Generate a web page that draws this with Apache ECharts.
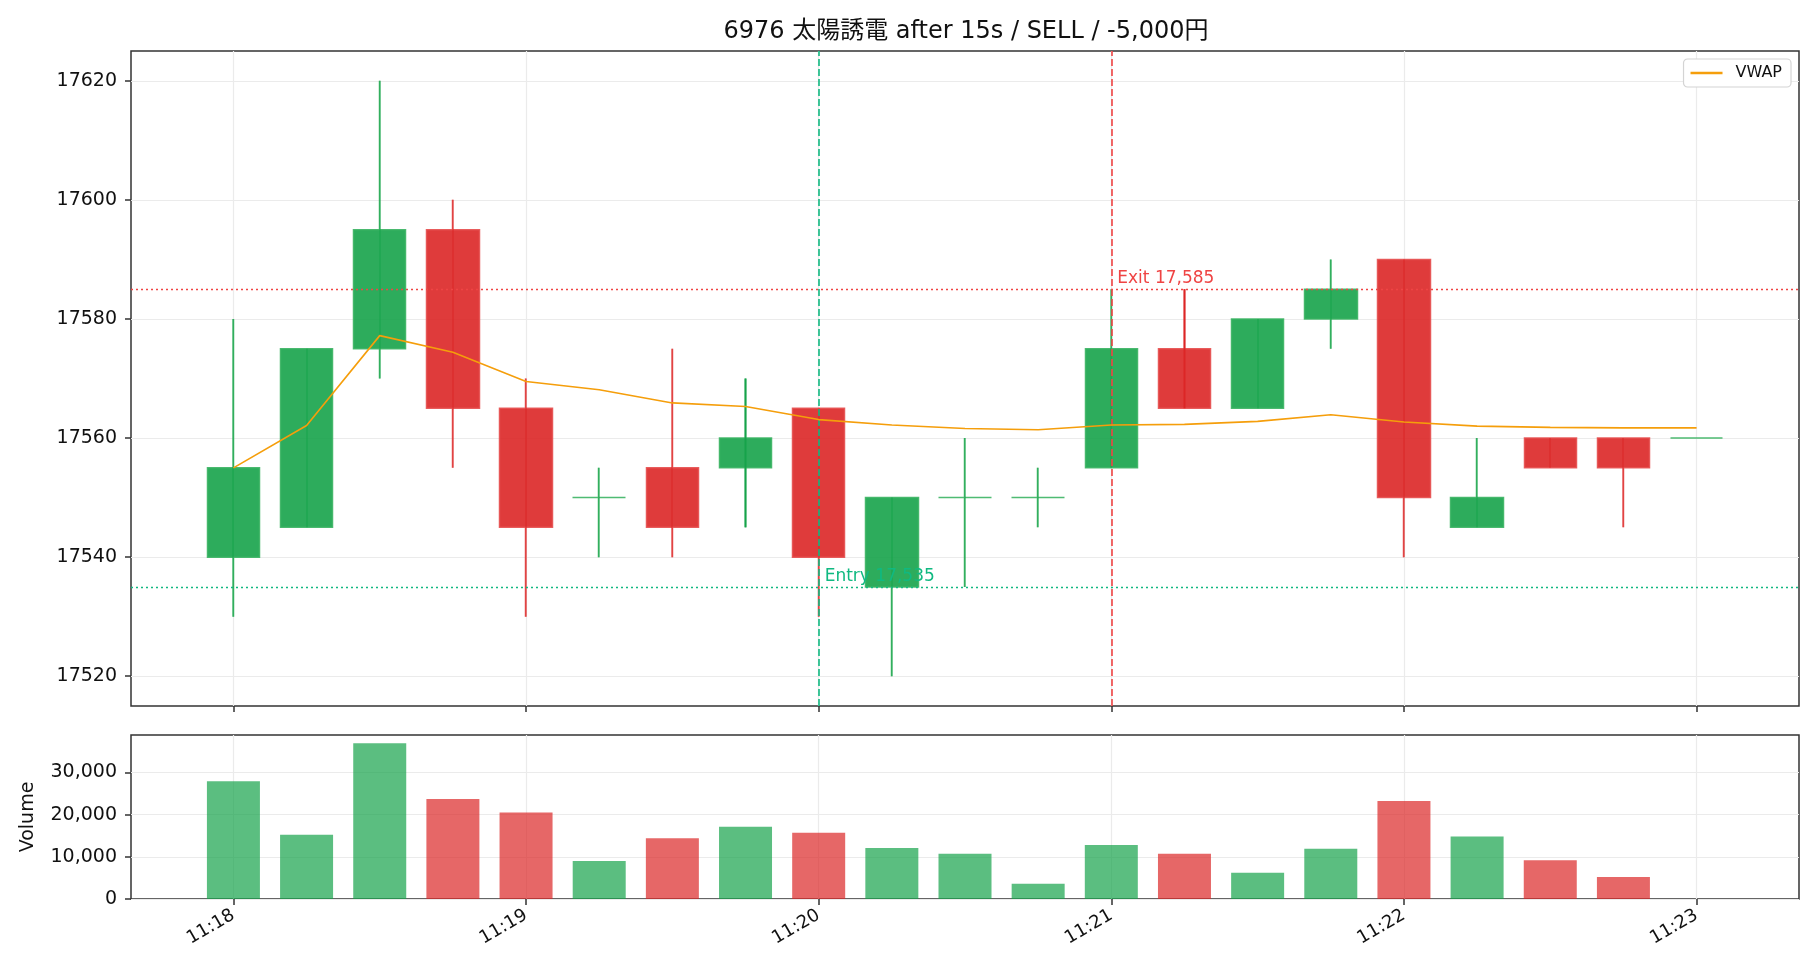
<!DOCTYPE html>
<html>
<head>
<meta charset="utf-8">
<title>6976 太陽誘電</title>
<script src="https://cdn.jsdelivr.net/npm/echarts@6/dist/echarts.min.js"></script>
<style>
html, body { margin: 0; padding: 0; background: #fff; }
#chart { width: 1820px; height: 980px; }
</style>
</head>
<body>
<div id="chart"></div>
<script>
// 15秒足 11:18:00 - 11:23:00 (index 0..20)
var candleIdx = [0, 1, 2, 3, 4, 5, 6, 7, 8, 9, 10, 11, 12, 13, 14, 15, 16, 17, 18, 19, 20];
var opens  = [17540, 17545, 17575, 17595, 17565, 17550, 17555, 17555, 17565, 17535, 17550, 17550, 17555, 17575, 17565, 17580, 17590, 17545, 17560, 17560, 17560];
var closes = [17555, 17575, 17595, 17565, 17545, 17550, 17545, 17560, 17540, 17550, 17550, 17550, 17575, 17565, 17580, 17585, 17550, 17550, 17555, 17555, 17560];
var lows   = [17530, 17545, 17570, 17555, 17530, 17540, 17540, 17545, 17530, 17520, 17535, 17545, 17555, 17565, 17565, 17575, 17540, 17545, 17555, 17545, 17560];
var highs  = [17580, 17575, 17620, 17600, 17570, 17555, 17575, 17570, 17565, 17550, 17560, 17555, 17585, 17585, 17580, 17590, 17590, 17560, 17560, 17560, 17560];
var vwap   = [17555.0, 17562.1, 17577.2, 17574.4, 17569.5, 17568.1, 17565.9, 17565.3, 17563.1, 17562.2, 17561.6, 17561.4, 17562.2, 17562.3, 17562.8, 17563.9, 17562.7, 17562.0, 17561.8, 17561.7, 17561.7];
var volumes = [27900, 15200, 36900, 23700, 20500, 9000, 14400, 17100, 15700, 12100, 10700, 3600, 12800, 10700, 6200, 11900, 23200, 14800, 9200, 5200, 0];

var timeTicks  = [0, 4, 8, 12, 16, 20];
var timeLabels = ['11:18', '11:19', '11:20', '11:21', '11:22', '11:23'];
var priceTicks = [17520, 17540, 17560, 17580, 17600, 17620];
var volTicks   = [0, 10000, 20000, 30000];

var entryIdx = 8, entryPrice = 17535;
var exitIdx = 12, exitPrice = 17585;

var UP = '#16a34a', DOWN = '#dc2626';
var ENTRY = '#10b981', EXIT = '#ef4444';
var FONT = '"DejaVu Sans", "Noto Sans CJK JP", sans-serif';

function isUp(i) {
  if (closes[i] !== opens[i]) return closes[i] > opens[i];
  return i === 0 || closes[i - 1] <= closes[i];
}

var candleData = candleIdx.map(function (x, i) {
  return [x, opens[i], closes[i], lows[i], highs[i]];
});
// 実体の上に重ねるヒゲ (low-high の細い線)
var wickData = candleIdx.map(function (x, i) {
  var c = isUp(i) ? UP : DOWN;
  return { value: [x, lows[i], highs[i], lows[i], highs[i]],
           itemStyle: { color: c, color0: c, borderColor: c, borderColor0: c, borderWidth: 0 } };
});
var volData = candleIdx.map(function (x, i) {
  return { value: [x, volumes[i]],
           itemStyle: { color: isUp(i) ? 'rgba(22,163,74,0.7)' : 'rgba(220,38,38,0.7)' } };
});
var vwapData = candleIdx.map(function (x, i) { return [x, vwap[i]]; });

var gridLine = { show: true, lineStyle: { color: '#ebebeb', width: 1.2 } };
var tickStyle = { show: true, length: 6, lineStyle: { color: '#333', width: 1.5 } };
var noLine = { show: false, onZero: false };
var labelStyle = { color: '#111', fontSize: 19, fontFamily: FONT };

var chart = echarts.init(document.getElementById('chart'));
chart.setOption({
  animation: false,
  backgroundColor: '#fff',
  graphic: [{
    type: 'text', x: 966, y: 32, z: 10,
    style: { text: '6976 太陽誘電 after 15s / SELL / -5,000円', fill: '#111',
             font: '24px ' + FONT, textAlign: 'center', textVerticalAlign: 'middle' }
  }],
  legend: {
    data: [{ name: 'VWAP', icon: 'rect' }], right: 29, top: 59,
    formatter: function (name) { return '\u2002' + name; },
    backgroundColor: '#fff', borderColor: '#d4d4d4', borderWidth: 1.2, borderRadius: 4,
    padding: [6, 9, 6, 7], itemWidth: 32, itemHeight: 2.5, itemGap: 10,
    textStyle: { color: '#111', fontSize: 16, fontFamily: FONT }
  },
  grid: [
    { left: 131, top: 51, width: 1668, height: 655, show: true, borderColor: '#333', borderWidth: 1.5 },
    { left: 131, top: 735, width: 1668, height: 164, show: true, borderColor: '#333', borderWidth: 1.5 }
  ],
  xAxis: [
    { type: 'value', gridIndex: 0, min: -1.4, max: 21.4,
      axisLine: noLine,
      axisTick: Object.assign({ customValues: timeTicks }, tickStyle),
      axisLabel: { show: false, customValues: timeTicks },
      splitLine: gridLine },
    { type: 'value', gridIndex: 1, min: -1.4, max: 21.4,
      axisLine: noLine,
      axisTick: Object.assign({ customValues: timeTicks }, tickStyle),
      axisLabel: Object.assign({ customValues: timeTicks, rotate: 30, margin: 15,
        formatter: function (v) { return timeLabels[timeTicks.indexOf(Math.round(v))] || ''; } },
        labelStyle, { fontSize: 18 }),
      splitLine: gridLine }
  ],
  yAxis: [
    { type: 'value', gridIndex: 0, min: 17515, max: 17625,
      axisLine: noLine,
      axisTick: Object.assign({ customValues: priceTicks }, tickStyle),
      axisLabel: Object.assign({ customValues: priceTicks, margin: 14,
        formatter: function (v) { return String(v); } }, labelStyle),
      splitLine: gridLine },
    { type: 'value', gridIndex: 1, min: 0, max: 38850,
      name: 'Volume', nameLocation: 'middle', nameGap: 93, nameRotate: 90,
      nameTextStyle: { color: '#111', fontSize: 19, fontFamily: FONT },
      axisLine: noLine,
      axisTick: Object.assign({ customValues: volTicks }, tickStyle),
      axisLabel: Object.assign({ customValues: volTicks, margin: 14,
        formatter: function (v) { return v.toLocaleString('en-US'); } }, labelStyle),
      splitLine: gridLine }
  ],
  series: [
    { type: 'candlestick', xAxisIndex: 0, yAxisIndex: 0, barWidth: 53,
      data: candleData,
      itemStyle: { color: 'rgba(22,163,74,0.9)', color0: 'rgba(220,38,38,0.9)',
                   borderColor: 'rgba(60,180,100,0.9)', borderColor0: 'rgba(230,80,80,0.9)', borderWidth: 1.5 },
      z: 2 },
    { type: 'candlestick', xAxisIndex: 0, yAxisIndex: 0, barWidth: 1.6,
      data: wickData, z: 3 },
    { type: 'bar', xAxisIndex: 1, yAxisIndex: 1, barWidth: 53, data: volData },
    { name: 'VWAP', type: 'line', xAxisIndex: 0, yAxisIndex: 0, data: vwapData,
      symbol: 'none', lineStyle: { color: '#f59e0b', width: 1.6 }, itemStyle: { color: '#f59e0b' },
      z: 5,
      markLine: {
        silent: true, symbol: ['none', 'none'], label: { show: false },
        data: [
          { yAxis: entryPrice, lineStyle: { color: ENTRY, type: [2, 3], width: 1.3 } },
          { yAxis: exitPrice, lineStyle: { color: EXIT, type: [2, 3], width: 1.3 } },
          { xAxis: entryIdx, lineStyle: { color: ENTRY, type: [7, 3], width: 1.6 } },
          { xAxis: exitIdx, lineStyle: { color: EXIT, type: [7, 3], width: 1.6 } }
        ]
      },
      markPoint: {
        silent: true, symbol: 'circle', symbolSize: 0, z: 20,
        data: [
          { coord: [entryIdx, entryPrice],
            label: { show: true, position: [6, -19], formatter: 'Entry ' + entryPrice.toLocaleString('en-US'),
                     color: ENTRY, fontSize: 17, fontFamily: FONT } },
          { coord: [exitIdx, exitPrice],
            label: { show: true, position: [6, -19], formatter: 'Exit ' + exitPrice.toLocaleString('en-US'),
                     color: EXIT, fontSize: 17, fontFamily: FONT } }
        ]
      }
    }
  ]
});
</script>
</body>
</html>
